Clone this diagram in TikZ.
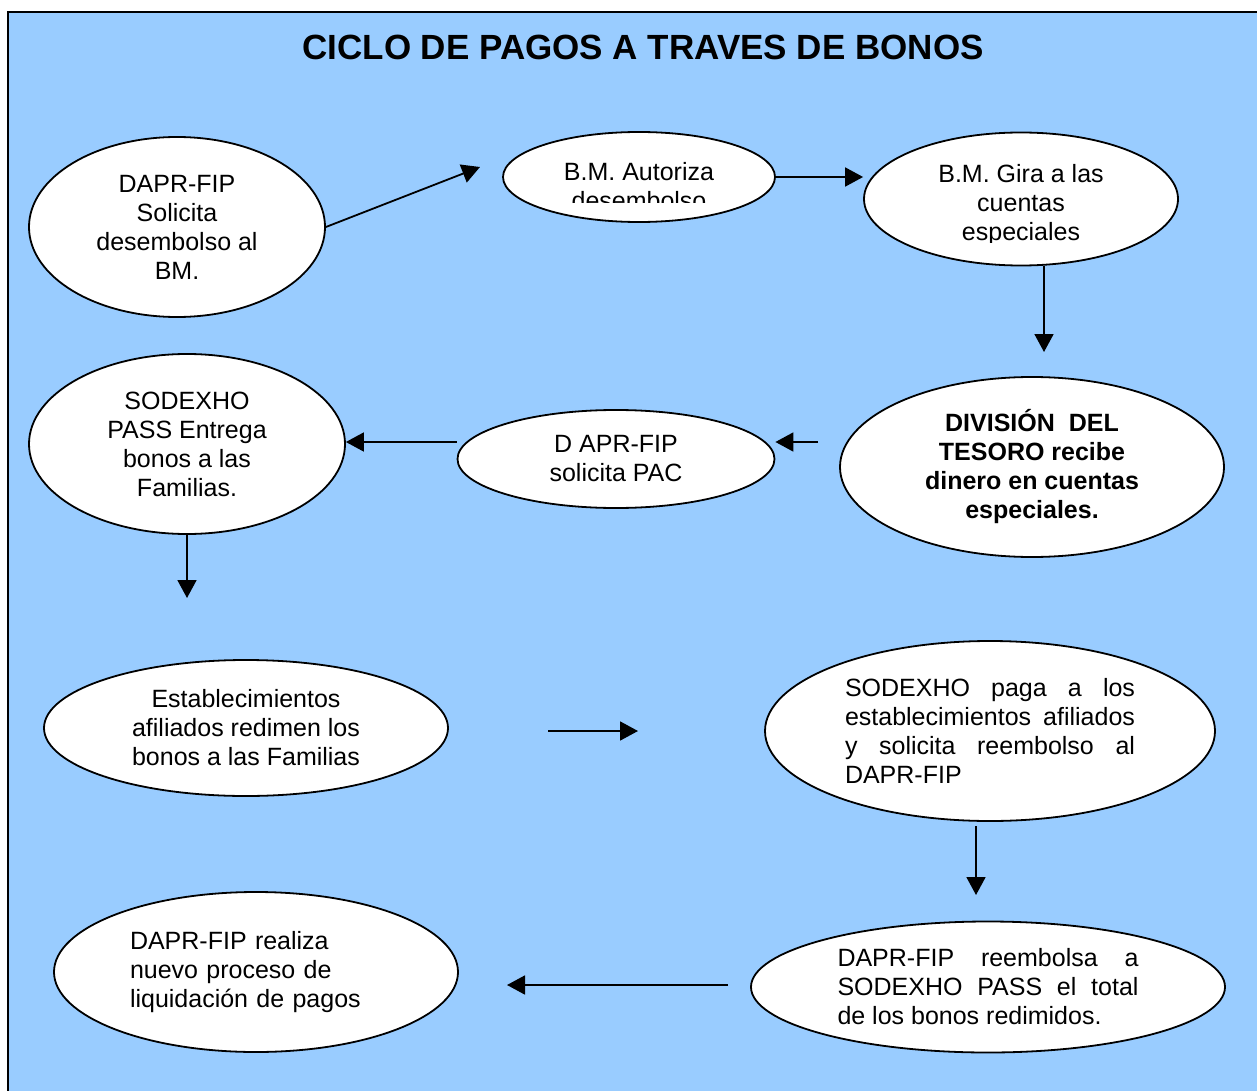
\documentclass[tikz,border=0pt]{standalone}
\usepackage{fontspec}
\setmainfont{Liberation Sans}
\usepackage{xcolor}
\usetikzlibrary{arrows.meta,shapes.geometric,positioning}
\definecolor{fondo}{HTML}{99CCFF}
\hyphenpenalty=10000
\exhyphenpenalty=10000
\tolerance=10000
\newcommand{\texto}{\fontsize{25}{29}\selectfont}

\begin{document}
\begin{tikzpicture}[x=1pt,y=-1pt,
  elipse/.style={draw,ellipse,fill=white,line width=1.8pt,inner sep=0pt,align=center,font=\texto},
  flecha/.style={line width=1.8pt,-{Triangle[length=18pt,width=19pt]}}]
  \clip (0,0) rectangle (1257,1091);
  \fill[white] (0,0) rectangle (1257,1091);
  \draw[fill=fondo,line width=2pt] (8,12) rectangle (1300,1140);
  \node[font=\fontsize{35}{38}\bfseries\selectfont] (titulo) at (643,47) {CICLO DE PAGOS A TRAVES DE BONOS};

  \node[elipse,minimum width=296pt,minimum height=180pt] (solicita) at (177,227) {DAPR-FIP\\Solicita\\desembolso al\\BM.};
  \node[elipse,minimum width=272pt,minimum height=90pt] (autoriza) at (639,177) {};
  \begin{scope}
    \clip (505,140) rectangle (775,203);
    \node[font=\texto,align=center] (autorizatxt) at (639,186) {B.M. Autoriza\\desembolso};
  \end{scope}
  \node[elipse,minimum width=314pt,minimum height=133pt] (gira) at (1021,199) {};
  \begin{scope}
    \clip (870,140) rectangle (1175,243);
    \node[font=\texto,align=center] (giratxt) at (1021,205) {B.M. Gira a las\\cuentas\\especiales};
  \end{scope}
  \node[elipse,minimum width=384pt,minimum height=180pt,font=\texto\bfseries] (tesoro) at (1032,467) {DIVISIÓN\ \ DEL\\TESORO recibe\\dinero en cuentas\\especiales.};
  \node[elipse,minimum width=317pt,minimum height=98pt] (pac) at (616,459) {D APR-FIP\\solicita PAC};
  \node[elipse,minimum width=316pt,minimum height=180pt] (entrega) at (187,444) {SODEXHO\\PASS Entrega\\bonos a las\\Familias.};
  \node[elipse,minimum width=404pt,minimum height=136pt] (redimen) at (246,728) {Establecimientos\\afiliados redimen los\\bonos a las Familias};
  \node[elipse,minimum width=450pt,minimum height=180pt,text width=290pt,align=justify] (paga) at (990,731) {SODEXHO paga a los establecimientos afiliados y solicita reembolso al DAPR-FIP};
  \node[elipse,minimum width=474pt,minimum height=131pt,text width=301pt,align=justify] (reembolsa) at (988,987) {DAPR-FIP reembolsa a SODEXHO PASS el total de los bonos redimidos.};
  \node[elipse,minimum width=404pt,minimum height=160pt,text width=252pt,align=left] (liquida) at (256,972) {DAPR-FIP realiza\\nuevo proceso de\\liquidación de pagos};

  \coordinate (a1) at (480,167);
  \coordinate (c1) at (1044,352);
  \coordinate (d1) at (818,442);
  \coordinate (f1) at (187,598);
  \coordinate (g1) at (548,731);
  \coordinate (g2) at (638,731);
  \coordinate (h1) at (976,826);
  \coordinate (h2) at (976,895);
  \coordinate (i1) at (728,985);
  \coordinate (i2) at (507,985);

  \draw[flecha] (solicita.east) -- (a1);
  \draw[flecha] (autoriza.east) -- (autoriza.east -| gira.west);
  \draw[flecha] (gira.south -| c1) -- (c1);
  \draw[flecha] (d1) -- (d1 -| pac.east);
  \draw[flecha] (pac.west |- d1) -- (entrega.east |- d1);
  \draw[flecha] (entrega.south) -- (f1);
  \draw[flecha] (g1) -- (g2);
  \draw[flecha] (h1) -- (h2);
  \draw[flecha] (i1) -- (i2);
\end{tikzpicture}
\end{document}
